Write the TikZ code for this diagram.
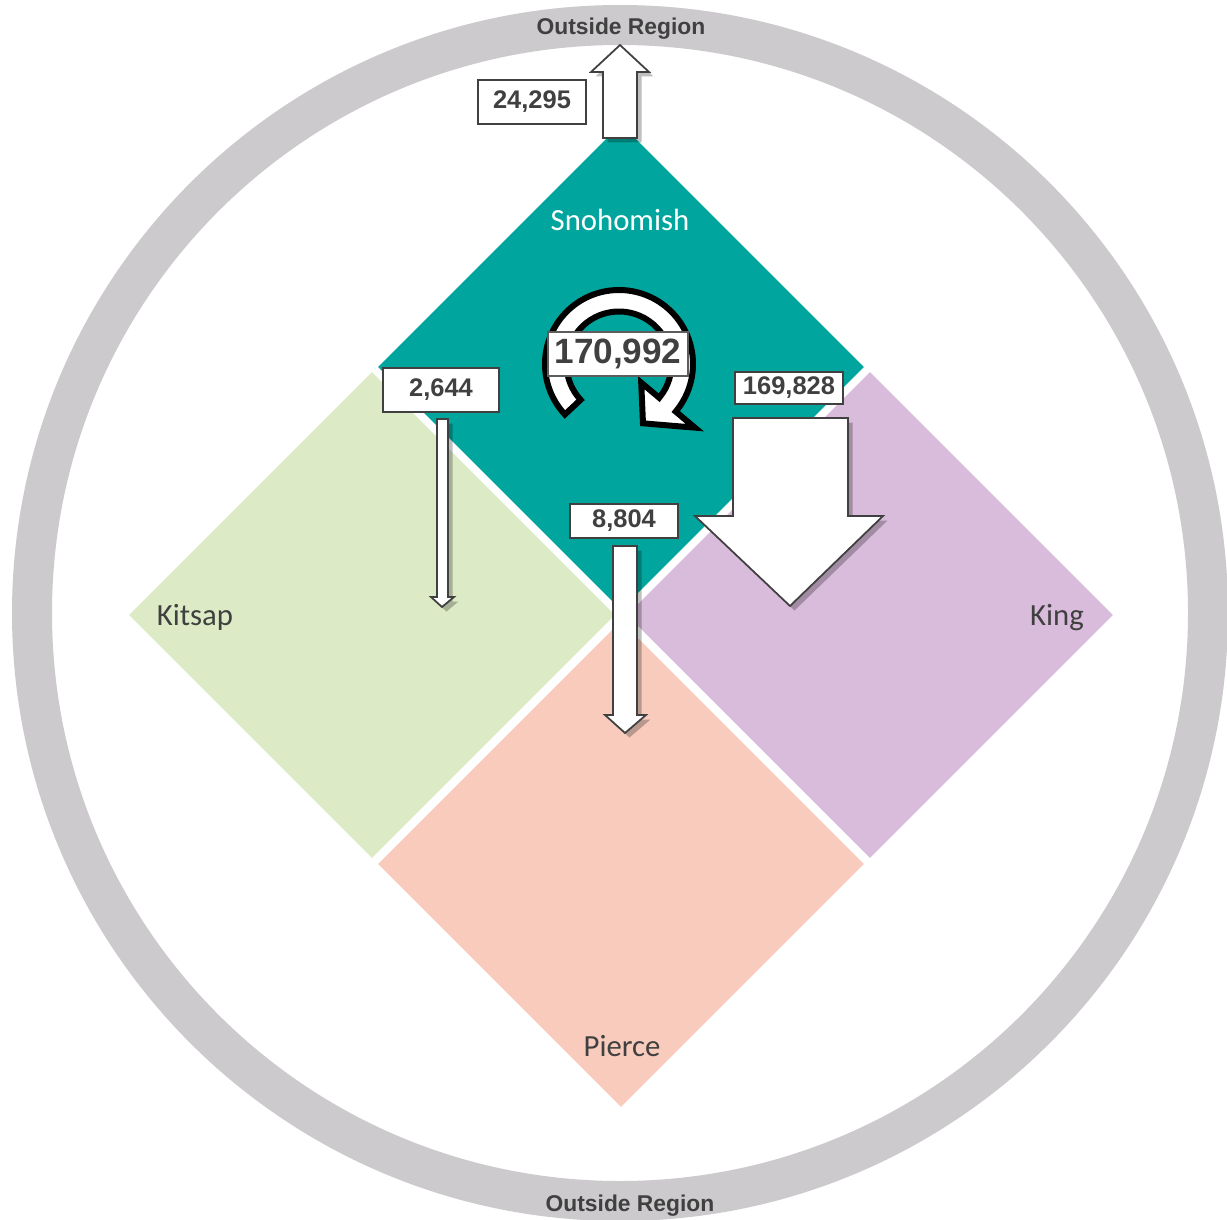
\documentclass[tikz,border=0pt]{standalone}
\usepackage{fontspec}
\setmainfont{Carlito}
\newfontfamily\numfont{Liberation Sans}
\usetikzlibrary{shapes.geometric,shadows}
\definecolor{ringgray}{HTML}{CCCACC}
\definecolor{snoteal}{HTML}{00A69E}
\definecolor{kitgreen}{HTML}{DCEAC5}
\definecolor{kinglav}{HTML}{D9BBDB}
\definecolor{piepeach}{HTML}{F8CBBD}
\definecolor{txtgray}{HTML}{404040}
\tikzset{
  county/.style={diamond, aspect=1, minimum width=9.72cm, minimum height=9.72cm, inner sep=0pt, outer sep=0pt},
  cname/.style={anchor=base, font=\fontsize{17.5}{20}\selectfont, text=txtgray, inner sep=0pt},
  outreg/.style={anchor=base, font=\numfont\bfseries\fontsize{13}{15}\selectfont, text=txtgray, inner sep=0pt},
  numbox/.style={draw=txtgray, line width=0.04cm, fill=white, inner sep=0pt, text=txtgray,
     font=\numfont\bfseries\fontsize{14.5}{16}\selectfont},
  blockarrow/.style={fill=white, draw=txtgray, line width=0.035cm, line join=miter,
     drop shadow={shadow xshift=0.09cm, shadow yshift=-0.09cm, opacity=0.25, fill=black}},
}
\begin{document}
\begin{tikzpicture}[x=0.02cm,y=-0.02cm]
\useasboundingbox (0,0) rectangle (1227,1220);
\fill[white] (0,0) rectangle (1227,1220);
% outer ring
\draw[ringgray, line width=0.8cm] (620,613) circle[radius=588];
\node[outreg] (outtop) at (621,35) {Outside Region};
\node[outreg] (outbot) at (630,1211) {Outside Region};
% counties
\node[county, fill=snoteal] (sno) at (621,367) {};
\node[county, fill=kitgreen] (kit) at (372,615) {};
\node[county, fill=kinglav] (king) at (870,615) {};
\node[county, fill=piepeach] (pie) at (621,864) {};
\node[cname, text=white] (snolab) at (620,230) {Snohomish};
\node[cname] (kitlab) at (195,625) {Kitsap};
\node[cname] (kinglab) at (1057,625) {King};
\node[cname] (pielab) at (622,1056) {Pierce};
% block arrows
\draw[blockarrow] (603,138) -- (603,72) -- (591,72) -- (620,45) -- (649,72) -- (637,72) -- (637,138) -- cycle;
\draw[blockarrow] (437,419) -- (437,597) -- (431,597) -- (442,607) -- (454,597) -- (448,597) -- (448,419) -- cycle;
\draw[blockarrow] (613,546) -- (613,715) -- (605,715) -- (625,733) -- (646,715) -- (637,715) -- (637,546) -- cycle;
\draw[blockarrow] (733,418) -- (733,516) -- (695,516) -- (790,606) -- (883,516) -- (848,516) -- (848,418) -- cycle;
% circular arrow
\begin{scope}[shift={(619,364)}, yscale=-1]
\draw[black, fill=white, line width=0.12cm, line join=miter]
  (223:74) arc[start angle=223, end angle=-40, radius=74] -- (-40:99) -- (-68:64)
  -- (-40:29) -- (-40:52.5) arc[start angle=-40, end angle=223, radius=52.5] -- cycle;
\end{scope}
% number boxes
\node[numbox, minimum width=2.16cm, minimum height=0.88cm] (b24) at (532,102) {24,295};
\node[numbox, draw=txtgray!85, minimum width=2.8cm, minimum height=0.9cm,
      font=\numfont\bfseries\fontsize{20}{22}\selectfont] (b170) at (618,354) {170,992};
\node[numbox, minimum width=2.32cm, minimum height=0.88cm] (b2644) at (441,390) {2,644};
\node[numbox, minimum width=2.16cm, minimum height=0.64cm] (b169) at (789,388) {169,828};
\node[numbox, minimum width=2.16cm, minimum height=0.68cm] (b8804) at (624,521) {8,804};
\end{tikzpicture}
\end{document}
